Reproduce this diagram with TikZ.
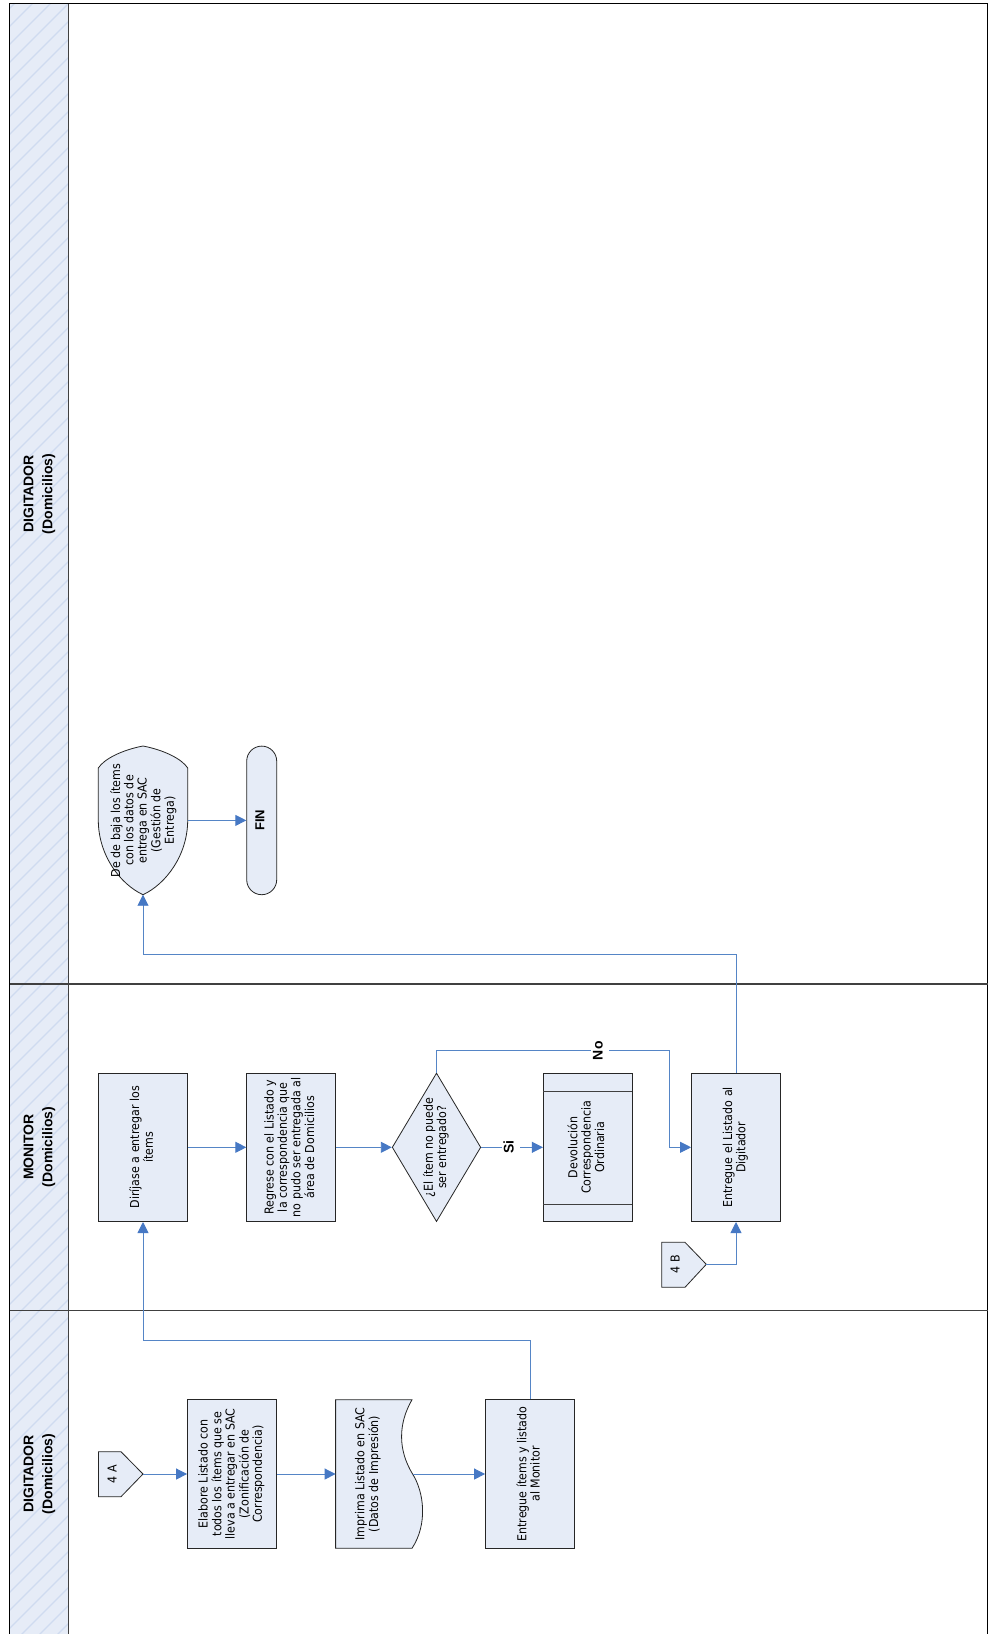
\documentclass[tikz,border=0pt]{standalone}
\usepackage{graphicx}
\usepackage{fontspec}
\setmainfont{DejaVu Sans Condensed}
\newfontfamily\headfont{Liberation Sans}
\usetikzlibrary{shapes.geometric,arrows.meta}
\definecolor{boxfill}{HTML}{E6ECF7}
\definecolor{hatch}{HTML}{CFDBF0}
\definecolor{flow}{HTML}{5585C6}
\definecolor{tip}{HTML}{4678C4}
\definecolor{frame}{HTML}{404040}
\newcommand{\rt}[1]{\rotatebox{90}{\begin{tabular}{@{}c@{}}#1\end{tabular}}}
\tikzset{
  x=1pt,y=-1pt,
  txt/.style={font=\fontsize{12.3}{13.3}\selectfont,text=black,inner sep=0pt},
  procbox/.style={txt,draw=black!85,line width=0.8pt,fill=boxfill,rectangle,minimum width=89pt,minimum height=148.6pt,anchor=center},
  decis/.style={txt,draw=black!85,line width=0.8pt,fill=boxfill,diamond,shape aspect=0.596,minimum width=88.6pt,minimum height=148.6pt},
  shapeline/.style={draw=black!85,line width=0.8pt,fill=boxfill},
  lanehead/.style={font=\headfont\fontsize{14}{19}\selectfont\bfseries,inner sep=0pt},
  flowline/.style={draw=flow,line width=0.9pt,-{Triangle[length=11pt,width=11pt,color=tip,fill=tip]}},
  edgelabel/.style={font=\headfont\fontsize{14}{15}\selectfont\bfseries,fill=white,inner xsep=1.5pt,inner ysep=0pt},
}
\begin{document}
\begin{tikzpicture}
\useasboundingbox (0,0) rectangle (989,1634);
\fill[white] (0,0) rectangle (989,1634);
% header band
\fill[boxfill] (9.5,3.5) rectangle (68.7,1634);
\begin{scope}
\clip (9.5,3.5) rectangle (68.7,1634);
\foreach \k in {0,...,95}{
  \draw[hatch,line width=1.3pt] (0,{\k*18}) -- (80,{\k*18-80});
}
\end{scope}
% frame
\draw[black,line width=0.8pt] (9.5,1640) -- (9.5,3.5) -- (987.8,3.5) -- (987.8,1640);
\draw[frame,line width=1.4pt] (68.7,3.5) -- (68.7,1640);
\draw[frame,line width=1.1pt] (9.5,984) -- (987.8,984);
\draw[frame,line width=1.1pt] (9.5,1310.7) -- (987.8,1310.7);
% lane labels
\node[lanehead] (lane1) at (39,494) {\rt{DIGITADOR\\(Domicilios)}};
\node[lanehead] (lane2) at (39,1147) {\rt{MONITOR\\(Domicilios)}};
\node[lanehead] (lane3) at (39,1474) {\rt{DIGITADOR\\(Domicilios)}};
% lower lane
\path[shapeline] (98.4,1451.7) -- (121,1451.7) -- (143,1474) -- (121,1496.7) -- (98.4,1496.7) -- cycle;
\node[txt,inner sep=0pt] (a4) at (114,1474) {\rt{4 A}};
\coordinate (a4tip) at (143,1474);
\node[procbox] (elabore) at (232,1474) {\rt{Elabore Listado con\\todos los ítems que se\\lleva a entregar en SAC\\(Zonificación de\\Correspondencia)}};
\path[shapeline] (335.6,1399.7) -- (412,1399.7) .. controls (398,1424) and (398,1450) .. (412.6,1474) .. controls (424,1492) and (428,1524) .. (412,1548.3) -- (335.6,1548.3) -- cycle;
\node[txt] (imprima) at (368.5,1474) {\rt{Imprima Listado en SAC\\(Datos de Impresión)}};
\coordinate (imprimaR) at (412.6,1474);
\coordinate (imprimaL) at (335.6,1474);
\node[procbox] (entregaA) at (530,1474) {\rt{Entregue ítems y listado\\al Monitor}};
% middle lane
\node[procbox] (dirijase) at (143,1147.3) {\rt{Diríjase a entregar los\\ítems}};
\node[procbox] (regrese) at (291.2,1147.3) {\rt{Regrese con el Listado y\\la correspondencia que\\no pudo ser entregada al\\área de Domicilios}};
\node[decis] (decide) at (436.5,1147.3) {\rt{¿El ítem no puede\\ser entregado?}};
\node[procbox] (devol) at (587.8,1147.3) {\rt{Devolución\\Correspondencia\\Ordinaria}};
\draw[frame,line width=1pt] (543.3,1091) -- (632.3,1091) (543.3,1204) -- (632.3,1204);
\node[procbox] (entregaB) at (736,1147.3) {\rt{Entregue el Listado al\\Digitador}};
\path[shapeline] (661.7,1242.3) -- (685,1242.3) -- (706.3,1264.3) -- (685,1287.3) -- (661.7,1287.3) -- cycle;
\node[txt] (b4) at (677,1264.3) {\rt{4 B}};
\coordinate (b4tip) at (706.3,1264.3);
% top lane
\path[shapeline] (143,746) .. controls (164,750) and (182,759) .. (187.7,768) -- (187.7,820) .. controls (187.7,855) and (166,884) .. (143,894.7) .. controls (120,884) and (98.3,855) .. (98.3,820) -- (98.3,768) .. controls (104,759) and (122,750) .. (143,746) -- cycle;
\node[txt] (baja) at (144,820.4) {\rt{De de baja los ítems\\con los datos de\\entrega en SAC\\(Gestión de\\Entrega)}};
\coordinate (bajaB) at (143,894.7);
\coordinate (bajaR) at (187.7,820.4);
\node[procbox,rounded corners=15pt,minimum width=30pt,font=\headfont\fontsize{13}{13}\selectfont\bfseries] (fin) at (261.7,820.4) {\rt{FIN}};
% connectors
\draw[flowline] (a4tip) -- (elabore.west);
\draw[flowline] (elabore.east) -- (imprimaL);
\draw[flowline] (imprimaR) -- (entregaA.west);
\draw[flowline] (entregaA.north) |- (143,1340.3) -- (dirijase.south);
\draw[flowline] (dirijase.east) -- (regrese.west);
\draw[flowline] (regrese.east) -- (decide.west);
\draw[flowline] (decide.east) -- (devol.west);
\node[edgelabel] (si) at (510.7,1147.3) {\rt{Si}};
\draw[flowline] (decide.north) |- (669.5,1050.7) |- (entregaB.west);
\node[edgelabel] (no) at (599.7,1050.7) {\rt{No}};
\draw[flowline] (b4tip) -| (entregaB.south);
\draw[flowline] (entregaB.north) |- (143,954.3) -- (bajaB);
\draw[flowline] (bajaR) -- (fin.west);
\end{tikzpicture}
\end{document}
